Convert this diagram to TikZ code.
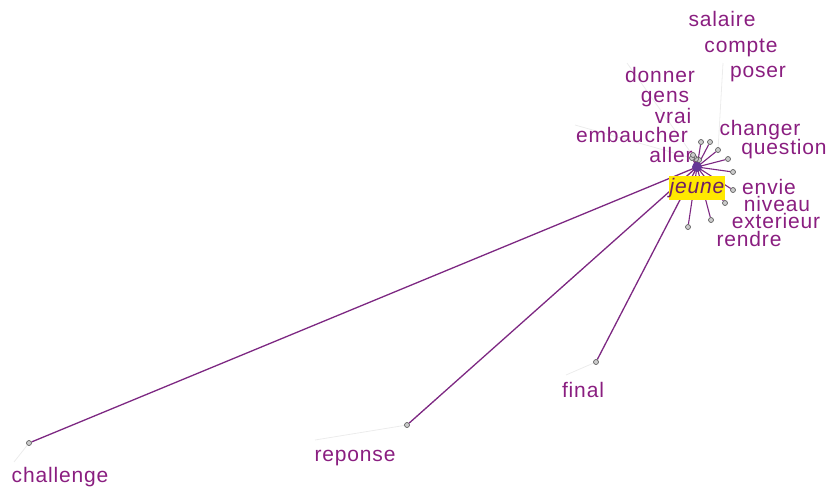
\documentclass[tikz,border=0pt]{standalone}
\usepackage{fontspec}
\newfontfamily\labfont[LetterSpace=4]{Liberation Sans}
\pgfdeclarelayer{bg}
\pgfsetlayers{bg,main}
\definecolor{edgec}{RGB}{125,40,130}
\definecolor{txtc}{RGB}{138,30,128}
\definecolor{hubc}{RGB}{100,55,150}
\definecolor{jyel}{RGB}{255,232,0}
\definecolor{jtxt}{RGB}{110,30,100}
\definecolor{leadc}{RGB}{236,236,236}
\begin{document}
\begin{tikzpicture}[x=1pt,y=-1pt,
  sat/.style={circle,draw=gray!75!black,fill=gray!40,line width=0.7pt,inner sep=0pt,minimum size=5pt},
  hubnode/.style={circle,fill=hubc,inner sep=0pt,minimum size=10pt},
  lab/.style={font={\labfont\fontsize{21}{21}\selectfont},text=txtc,inner sep=0pt},
  jlab/.style={font={\labfont\fontsize{21}{21}\selectfont\itshape},text=jtxt,fill=jyel,inner sep=0pt,minimum width=56pt,minimum height=24pt},
  edge/.style={draw=edgec,line width=1.3pt},
  lead/.style={draw=leadc,line width=0.8pt}]
\useasboundingbox (0,0) rectangle (829,488);
% far satellites
\node[sat] (challenge) at (29,443) {};
\node[sat] (reponse) at (407,425) {};
\node[sat] (final) at (596,362) {};
% cluster satellites
\node[sat] (s-rendre) at (688,227) {};
\node[sat] (s-exterieur) at (711,220) {};
\node[sat] (s-niveau) at (725,203) {};
\node[sat] (s-envie) at (733,190) {};
\node[sat] (s-question) at (733,172) {};
\node[sat] (s-changer) at (728,159) {};
\node[sat] (s-compte) at (718,150) {};
\node[sat] (s-salaire) at (710,142) {};
\node[sat] (s-poser) at (701,142) {};
\node[sat] (s-gens) at (699,160) {};
\node[sat] (s-vrai) at (696,159) {};
\node[sat] (s-donner) at (694,157) {};
\node[sat] (s-embaucher) at (692,158) {};
\node[sat] (s-aller) at (693,155) {};
% hub
\node[hubnode] (hub) at (697,167) {};
% label
\node[jlab] (jeune) at (697,188) {jeune};
% text labels
\node[lab] (t-challenge) at (60,477) {challenge};
\node[lab] (t-reponse) at (355,458) {reponse};
\node[lab] (t-final) at (583,390) {final};
\node[lab] (t-salaire) at (722,19) {salaire};
\node[lab] (t-compte) at (741,48) {compte};
\node[lab] (t-poser) at (758,74) {poser};
\node[lab] (t-donner) at (660,75) {donner};
\node[lab] (t-gens) at (665,99) {gens};
\node[lab] (t-vrai) at (673,116) {vrai};
\node[lab] (t-embaucher) at (632,135) {embaucher};
\node[lab] (t-aller) at (671,155) {aller};
\node[lab] (t-changer) at (760,130) {changer};
\node[lab] (t-question) at (784,149) {question};
\node[lab] (t-envie) at (769,187) {envie};
\node[lab] (t-niveau) at (777,204) {niveau};
\node[lab] (t-exterieur) at (776,221) {exterieur};
\node[lab] (t-rendre) at (749,239) {rendre};
% leader coordinates
\coordinate (l-challenge) at (14,462);
\coordinate (l-reponse) at (315,440);
\coordinate (l-final) at (566,375);
\coordinate (l-donner) at (627,63);
\coordinate (l-compte) at (723,63);
\coordinate (l-embaucher) at (575,125);
\begin{pgfonlayer}{bg}
  \draw[lead] (challenge) -- (l-challenge);
  \draw[lead] (reponse) -- (l-reponse);
  \draw[lead] (final) -- (l-final);
  \draw[lead] (s-donner) -- (l-donner);
  \draw[lead] (s-compte) -- (l-compte);
  \draw[lead] (s-embaucher) -- (l-embaucher);
  \foreach \n in {challenge,reponse,final}
    \draw[edge] (hub.center) -- (\n);
  \foreach \n in {rendre,exterieur,niveau,envie,question,changer,compte,salaire,poser,gens,vrai,donner,embaucher,aller}
    \draw[edge,line width=1.1pt] (hub.center) -- (s-\n);
\end{pgfonlayer}
\end{tikzpicture}
\end{document}
